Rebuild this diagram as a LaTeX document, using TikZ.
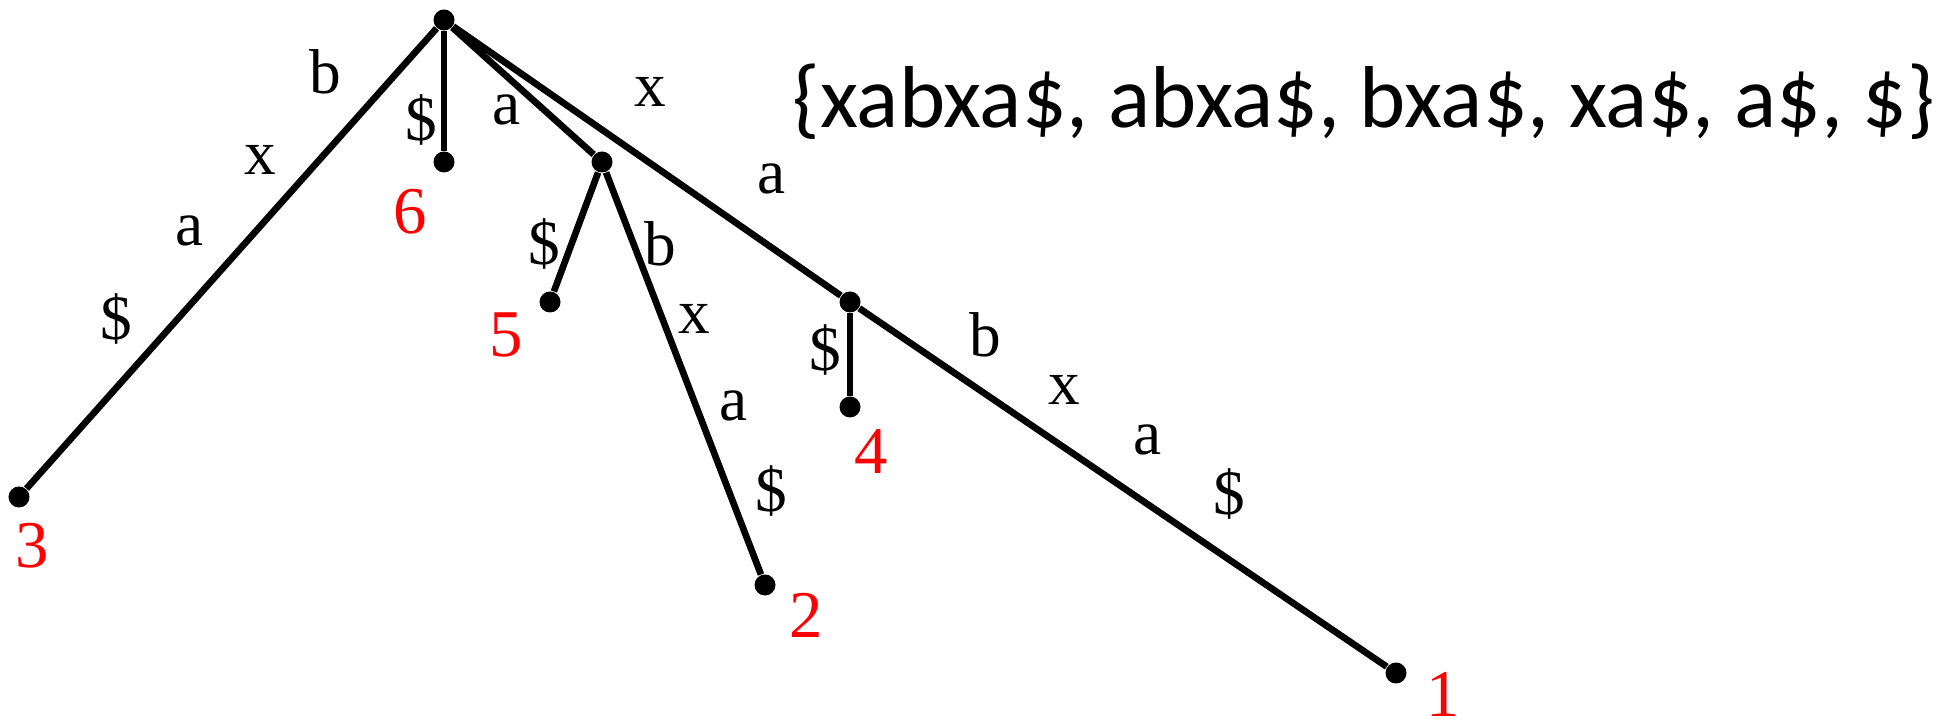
\documentclass[tikz,border=0pt]{standalone}
\usepackage{fontspec}
\setmainfont{Liberation Serif}
\newfontfamily\suffixfont{Carlito}
\usetikzlibrary{positioning}
\tikzset{
  % tree vertices and edges
  vtx/.style={circle, fill=black, inner sep=0pt, minimum size=2.1mm},
  edge/.style={draw=black, line width=1.9pt},
  % edge letters and leaf numbers
  lbl/.style={font=\fontsize{18}{20}\selectfont, inner sep=0pt},
  leafno/.style={font=\fontsize{19}{21}\selectfont, text=red, inner sep=0pt},
  suffixes/.style={font=\suffixfont\fontsize{25}{27}\selectfont, inner sep=0pt},
}

\begin{document}
\begin{tikzpicture}[x=0.01cm, y=-0.01cm]
  \useasboundingbox (0,0) rectangle (1960,728);

  % vertices
  \node[vtx] (root) at (444,20) {};
  \node[vtx] (ia) at (602,162) {};
  \node[vtx] (ixa) at (850,302) {};
  \node[vtx] (l1) at (1396,673) {};
  \node[vtx] (l2) at (765,585) {};
  \node[vtx] (l3) at (19,497) {};
  \node[vtx] (l4) at (850,407) {};
  \node[vtx] (l5) at (550,302) {};
  \node[vtx] (l6) at (444,162) {};

  % edges
  \draw[edge] (root) -- (l3);
  \draw[edge] (root) -- (l6);
  \draw[edge] (root) -- (ia);
  \draw[edge] (root) -- (ixa);
  \draw[edge] (ia) -- (l5);
  \draw[edge] (ia) -- (l2);
  \draw[edge] (ixa) -- (l4);
  \draw[edge] (ixa) -- (l1);

  % edge labels
  \node[lbl] (e3b) at (325,72) {b};
  \node[lbl] (e3x) at (260,160) {x};
  \node[lbl] (e3a) at (190,231) {a};
  \node[lbl] (e3d) at (116,319) {\$};
  \node[lbl] (e6d) at (421,120) {\$};
  \node[lbl] (eaa) at (507,110) {a};
  \node[lbl] (exx) at (650,92) {x};
  \node[lbl] (exa) at (772,179) {a};
  \node[lbl] (e5d) at (544,244) {\$};
  \node[lbl] (e2b) at (660,244) {b};
  \node[lbl] (e2x) at (694,319) {x};
  \node[lbl] (e2a) at (734,406) {a};
  \node[lbl] (e2d) at (771,491) {\$};
  \node[lbl] (e4d) at (825,350) {\$};
  \node[lbl] (e1b) at (985,335) {b};
  \node[lbl] (e1x) at (1064,390) {x};
  \node[lbl] (e1a) at (1148,440) {a};
  \node[lbl] (e1d) at (1229,494) {\$};

  % leaf numbers
  \node[leafno] (n1) at (1443,694) {1};
  \node[leafno] (n2) at (806,615) {2};
  \node[leafno] (n3) at (32,546) {3};
  \node[leafno] (n4) at (871,452) {4};
  \node[leafno] (n5) at (506,335) {5};
  \node[leafno] (n6) at (410,212) {6};

  \node[suffixes] (set) at (1364,102) {\{xabxa\$, abxa\$, bxa\$, xa\$, a\$, \$\}};
\end{tikzpicture}
\end{document}
